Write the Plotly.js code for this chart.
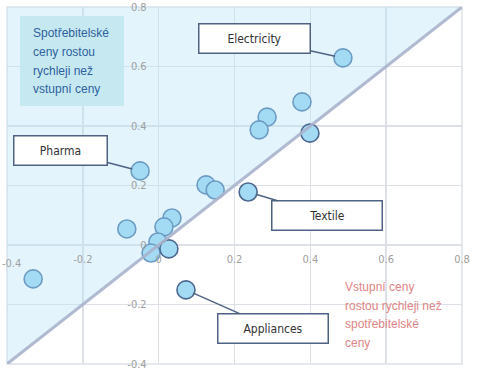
<!DOCTYPE html>
<html>
<head>
<meta charset="utf-8">
<script src="https://cdn.plot.ly/plotly-3.0.1.min.js"></script>
<style>html,body{margin:0;padding:0;background:#fff;}#chart{width:480px;height:381px;}</style>
</head>
<body>
<div id="chart"></div>
<script>
// Input price growth (x) vs consumer price growth (y)
const xValues = [0.486, 0.378, 0.286, 0.265, 0.399, -0.049, 0.125, 0.149, 0.236, 0.035, 0.014, -0.084, -0.002, -0.020, 0.027, -0.331, 0.072];
const yValues = [0.629, 0.481, 0.430, 0.387, 0.376, 0.249, 0.202, 0.185, 0.178, 0.091, 0.061, 0.054, 0.010, -0.027, -0.013, -0.114, -0.151];
const highlighted = [false, false, false, false, true, false, false, false, true, false, false, false, false, false, true, false, true];
const labelNames = ['Electricity', 'Pharma', 'Textile', 'Appliances'];
const labelIndex = [0, 5, 8, 16];
const tickValues = [-0.4, -0.2, 0, 0.2, 0.4, 0.6, 0.8];
const tickLabels = ['-0.4', '-0.2', '0', '0.2', '0.4', '0.6', '0.8'];
const axisRange = [-0.4, 0.8];
const upperNote = ['Spotřebitelské', 'ceny rostou', 'rychleji než', 'vstupní ceny'];
const lowerNote = ['Vstupní ceny', 'rostou rychleji než', 'spotřebitelské', 'ceny'];

const W = 480, H = 381;
const M = {l: 7, r: 18, t: 7, b: 17};
const PW = W - M.l - M.r, PH = H - M.t - M.b;
const px2fx = p => (p - M.l) / PW;
const py2fy = p => 1 - (p - M.t) / PH;
const tickFont = {family: 'DejaVu Sans Condensed, DejaVu Sans', size: 11, color: '#a0a0a0'};

const traces = [
  {
    x: [axisRange[0], axisRange[1], axisRange[0], axisRange[0]],
    y: [axisRange[0], axisRange[1], axisRange[1], axisRange[0]],
    type: 'scatter', mode: 'lines', fill: 'toself',
    fillcolor: 'rgba(185,228,248,0.4)', line: {width: 0}, hoverinfo: 'skip', showlegend: false
  },
  {
    x: xValues, y: yValues, type: 'scatter', mode: 'markers', showlegend: false,
    marker: {
      size: 18, color: '#a3dbf4',
      line: {width: 1.6, color: highlighted.map(h => h ? '#4d6890' : '#6c9bc3')}
    }
  },
  {
    x: axisRange, y: axisRange, type: 'scatter', mode: 'lines', showlegend: false,
    line: {color: '#a9b3cb', width: 3}, opacity: 0.9, hoverinfo: 'skip'
  }
];

const boxOffsets = [[-88.5, -19, 104], [-79.5, -20.5, 86], [79, 23.5, 103], [87, 38.5, 103]];
const annotations = labelNames.map((n, i) => ({
  x: xValues[labelIndex[i]], y: yValues[labelIndex[i]], xref: 'x', yref: 'y',
  text: n, showarrow: true, arrowhead: 0, arrowwidth: 1.5, arrowcolor: '#4f6283',
  ax: boxOffsets[i][0], ay: boxOffsets[i][1], standoff: 8,
  bgcolor: '#ffffff', bordercolor: '#4f6283', borderwidth: 1.5, borderpad: 3,
  width: boxOffsets[i][2], height: 22,
  font: {family: 'DejaVu Sans Condensed, DejaVu Sans', size: 12, color: '#333333'}
}));

// leftmost x tick label, kept inside the page edge
annotations.push({
  xref: 'paper', yref: 'paper', x: px2fx(0), y: py2fy(263), xanchor: 'left', yanchor: 'middle',
  text: tickLabels[0], showarrow: false, font: tickFont
});

const upperY = [33, 51.5, 70.5, 89];
upperNote.forEach((t, i) => annotations.push({
  xref: 'paper', yref: 'paper', x: px2fx(31), y: py2fy(upperY[i]),
  xanchor: 'left', yanchor: 'middle', text: t, showarrow: false,
  font: {family: 'Liberation Sans, Arial', size: 12, color: '#2f5f9e'}
}));
const lowerY = [287, 305.5, 324, 342.5];
lowerNote.forEach((t, i) => annotations.push({
  xref: 'paper', yref: 'paper', x: px2fx(343), y: py2fy(lowerY[i]),
  xanchor: 'left', yanchor: 'middle', text: t, showarrow: false,
  font: {family: 'Liberation Sans, Arial', size: 12, color: '#e08585'}
}));

const axisCommon = {
  range: axisRange, tickvals: tickValues, ticktext: tickLabels,
  showgrid: true, gridcolor: '#dde1e7', gridwidth: 1.5,
  zeroline: true, zerolinecolor: '#dde1e7', zerolinewidth: 1.5,
  showline: false, ticks: '', anchor: 'free', position: 1 / 3,
  tickfont: tickFont, fixedrange: true
};

const layout = {
  width: W, height: H, margin: M,
  paper_bgcolor: '#ffffff', plot_bgcolor: '#ffffff',
  xaxis: Object.assign({}, axisCommon, {ticklabelstandoff: 6}),
  yaxis: Object.assign({}, axisCommon, {ticklabelstandoff: 12}),
  shapes: [
    {type: 'rect', xref: 'paper', yref: 'paper', x0: 0, x1: 1, y0: 0, y1: 1,
     line: {color: '#dde1e7', width: 1.5}, fillcolor: 'rgba(0,0,0,0)', layer: 'below'},
    {type: 'rect', xref: 'paper', yref: 'paper', x0: px2fx(20), x1: px2fx(124), y0: py2fy(106), y1: py2fy(16),
     line: {width: 0}, fillcolor: '#c6e9f1', layer: 'above'}
  ],
  annotations: annotations,
  showlegend: false
};

Plotly.newPlot('chart', traces, layout, {displayModeBar: false, staticPlot: true});
</script>
</body>
</html>
